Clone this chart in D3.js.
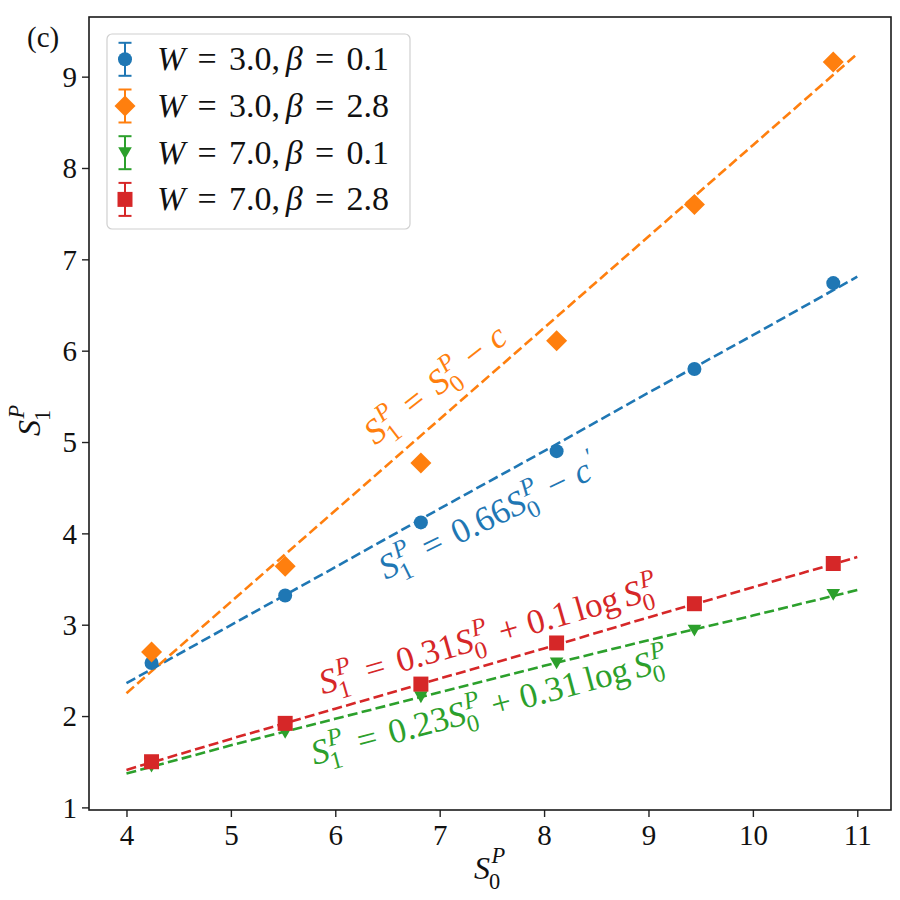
<!DOCTYPE html>
<html><head><meta charset="utf-8">
<script src="https://cdn.jsdelivr.net/npm/d3@7"></script>
<style>body{margin:0;background:#fff}svg{display:block}text{font-family:"Liberation Serif","DejaVu Serif",serif;}</style>
</head><body><svg id="c" width="900" height="900"></svg>
<script>
// ---------- data ----------
const S0 = [4.24, 5.52, 6.82, 8.12, 9.44, 10.77];
const blueVals   = [2.58, 3.32, 4.12, 4.90, 5.80, 6.74];  // W=3.0, beta=0.1
const orangeVals = [2.70, 3.64, 4.77, 6.11, 7.60, 9.16];  // W=3.0, beta=2.8
const greenVals  = [1.45, 1.82, 2.21, 2.58, 2.94, 3.33];  // W=7.0, beta=0.1
const redVals    = [1.50, 1.92, 2.35, 2.80, 3.23, 3.67];  // W=7.0, beta=2.8
// fit lines
const fitX = [4, 5, 6, 7, 8, 9, 10, 11];
const blueFit   = [2.36, 2.996, 3.63, 4.27, 4.90, 5.54, 6.17, 6.81];
const orangeFit = [2.25, 3.25, 4.25, 5.25, 6.25, 7.25, 8.25, 9.25];
const greenFit  = [1.37, 1.68, 1.97, 2.26, 2.55, 2.83, 3.10, 3.38];
const redFit    = [1.41, 1.75, 2.08, 2.41, 2.74, 3.08, 3.41, 3.74];
const xTicks = [4, 5, 6, 7, 8, 9, 10, 11];
const yTicks = [1, 2, 3, 4, 5, 6, 7, 8, 9];
const colors = {blue:"#1f77b4", orange:"#ff7f0e", green:"#2ca02c", red:"#d62728"};

// ---------- layout ----------
const svg = d3.select("#c");
const L = 89, R = 891, T = 17, B = 810;
const x = d3.scaleLinear().domain([3.641, 11.323]).range([L, R]);
const y = d3.scaleLinear().domain([0.9715, 9.653]).range([B, T]);

// math text helper
function mathText(g, parts, size, color, supY = -0.40, subY = 0.26) {
  const inner = g.append("g");
  let cx = 0;
  const mk = (tx, xx, yy, fs, it) => inner.append("text").attr("x", xx).attr("y", yy)
    .attr("font-size", fs).attr("fill", color).style("font-style", it ? "italic" : "normal").text(tx);
  parts.forEach(p => {
    if (p.gap !== undefined) { cx += p.gap * size; return; }
    if (p.sub !== undefined || p.sup !== undefined) {
      let w = 0;
      if (p.sup !== undefined) { const t = mk(p.sup, cx + 0.05*size, supY*size, 0.7*size, true); w = Math.max(w, t.node().getComputedTextLength() + 0.05*size); }
      if (p.sub !== undefined) { const t = mk(p.sub, cx - 0.03*size, subY*size, 0.7*size, false); w = Math.max(w, t.node().getComputedTextLength() - 0.03*size); }
      cx += w + 0.03*size; return;
    }
    const t = mk(p.t, cx, 0, size, p.it);
    cx += t.node().getComputedTextLength();
  });
  return {inner, width: cx};
}
const S = (sub) => [{t:"S", it:true}, {sub:sub, sup:"P"}];
const EQ = [{gap:0.36},{t:"="},{gap:0.36}];
const OP = (o) => [{gap:0.28},{t:o},{gap:0.28}];

// fit lines
const line = d3.line().x(d => x(d[0])).y(d => y(d[1]));
[[blueFit, colors.blue], [orangeFit, colors.orange], [greenFit, colors.green], [redFit, colors.red]].forEach(([v, c]) => {
  svg.append("path").datum(fitX.map((xx, i) => [xx, v[i]])).attr("d", line)
    .attr("fill", "none").attr("stroke", c).attr("stroke-width", 2.6).attr("stroke-dasharray", "10,4.3");
});

// markers
const sym = {
  circle: d3.symbol().type(d3.symbolCircle).size(Math.PI*7*7),
  diamond: "M0,-10.5L10.5,0L0,10.5L-10.5,0Z",
  square: d3.symbol().type(d3.symbolSquare).size(15*15),
  tri: "M-6.8,-5.5L6.8,-5.5L0,6.3Z"
};
function marker(g, kind, c, px, py) {
  const d = typeof sym[kind] === "string" ? sym[kind] : sym[kind]();
  g.append("path").attr("d", d).attr("transform", `translate(${px},${py})`).attr("fill", c);
}
const series = [
  [blueVals, colors.blue, "circle"],
  [orangeVals, colors.orange, "diamond"],
  [greenVals, colors.green, "tri"],
  [redVals, colors.red, "square"]
];
series.forEach(([v, c, k]) => S0.forEach((s, i) => marker(svg, k, c, x(s), y(v[i]))));

// axes
const axB = svg.append("g").attr("transform", `translate(0,${B})`)
  .call(d3.axisBottom(x).tickValues(xTicks).tickSize(7).tickPadding(5).tickFormat(d3.format("d")));
const axL = svg.append("g").attr("transform", `translate(${L},0)`)
  .call(d3.axisLeft(y).tickValues(yTicks).tickSize(7).tickPadding(5).tickFormat(d3.format("d")));
[axB, axL].forEach(a => {
  a.attr("font-family", '"Liberation Serif",serif');
  a.select(".domain").remove();
  a.selectAll(".tick line").attr("stroke", "#222").attr("stroke-width", 1.4);
  a.selectAll(".tick text").attr("font-size", 29).attr("fill", "#111");
});
axL.selectAll(".tick text").attr("dy", "0.34em");
axB.selectAll(".tick text").attr("dy", "0.78em");
svg.append("rect").attr("x", L).attr("y", T).attr("width", R-L).attr("height", B-T)
  .attr("fill", "none").attr("stroke", "#1a1a1a").attr("stroke-width", 1.6);

// axis labels
{
  const g = svg.append("g").attr("transform", `translate(490,879)`);
  const m = mathText(g, S("0"), 32, "#111", -0.5, 0.3); m.inner.attr("transform", `translate(${-m.width/2},0)`);
}
{
  const g = svg.append("g").attr("transform", `translate(40,420) rotate(-90)`);
  const m = mathText(g, S("1"), 32, "#111", -0.5, 0.3); m.inner.attr("transform", `translate(${-m.width/2},0)`);
}
svg.append("text").attr("x", 27).attr("y", 47).attr("font-size", 29).attr("fill", "#111").text("(c)");

// annotations
const AF = 35;
const ann = [
  {parts: [...S("1"), ...EQ, ...S("0"), ...OP("\u2212"), {t:"c", it:true}], c: colors.orange, cx: 436, cy: 385, a: -38},
  {parts: [...S("1"), ...EQ, {t:"0.66"}, ...S("0"), ...OP("\u2212"), {t:"c", it:true}, {sup:"\u2032"}], c: colors.blue, cx: 489, cy: 518, a: -26},
  {parts: [...S("1"), ...EQ, {t:"0.31"}, ...S("0"), ...OP("+"), {t:"0.1"}, {gap:0.17}, {t:"log"}, {gap:0.17}, ...S("0")], c: colors.red, cx: 489, cy: 636, a: -16},
  {parts: [...S("1"), ...EQ, {t:"0.23"}, ...S("0"), ...OP("+"), {t:"0.31"}, {gap:0.17}, {t:"log"}, {gap:0.17}, ...S("0")], c: colors.green, cx: 490, cy: 707, a: -15}
];
ann.forEach(d => {
  const g = svg.append("g").attr("transform", `translate(${d.cx},${d.cy}) rotate(${d.a})`);
  const m = mathText(g, d.parts, AF, d.c);
  m.inner.attr("transform", `translate(${-m.width/2},${0.3*AF})`);
});

// legend
const lg = svg.append("g");
lg.append("rect").attr("x", 107).attr("y", 34).attr("width", 303).attr("height", 195).attr("rx", 5)
  .attr("fill", "#fff").attr("fill-opacity", 0.85).attr("stroke", "#d0d0d0").attr("stroke-width", 1.2);
const legItems = [
  [colors.blue, "circle", "3.0", "0.1"],
  [colors.orange, "diamond", "3.0", "2.8"],
  [colors.green, "tri", "7.0", "0.1"],
  [colors.red, "square", "7.0", "2.8"]
];
legItems.forEach(([c, k, w, b], i) => {
  const cy = 59.3 + i*46.7, mx = 125;
  lg.append("line").attr("x1", mx).attr("x2", mx).attr("y1", cy-16.5).attr("y2", cy+16.5).attr("stroke", c).attr("stroke-width", 2);
  lg.append("line").attr("x1", mx-6.5).attr("x2", mx+6.5).attr("y1", cy-16.5).attr("y2", cy-16.5).attr("stroke", c).attr("stroke-width", 2);
  lg.append("line").attr("x1", mx-6.5).attr("x2", mx+6.5).attr("y1", cy+16.5).attr("y2", cy+16.5).attr("stroke", c).attr("stroke-width", 2);
  marker(lg, k, c, mx, cy);
  const g = lg.append("g").attr("transform", `translate(157,${cy+11})`);
  mathText(g, [{t:"W", it:true}, ...EQ, {t:w + ","}, {gap:0.17}, {t:"\u03b2", it:true}, ...EQ, {t:b}], 34, "#111");
});
</script></body></html>
